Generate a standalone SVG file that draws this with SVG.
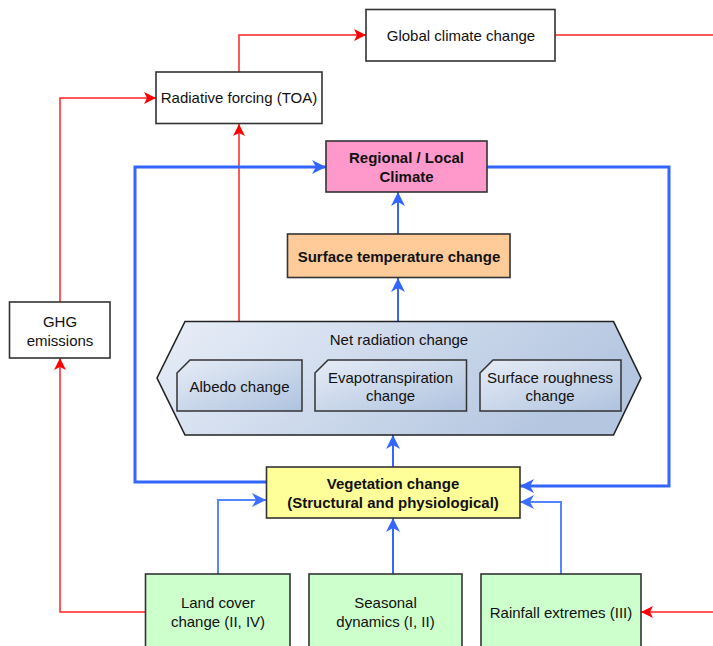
<svg xmlns="http://www.w3.org/2000/svg" width="713" height="646" viewBox="0 0 713 646">
<defs>
<style>
text{font-family:"Liberation Sans",Arial,sans-serif;font-size:15px;fill:#111;text-anchor:middle}
.b{font-weight:bold}
.box{stroke:#333;stroke-width:1.6}
.red{fill:none;stroke:#F22;stroke-width:1.5}
.blue{fill:none;stroke:#3366FF;stroke-width:2}
.blue2{fill:none;stroke:#5585FF;stroke-width:2}
.loop{fill:none;stroke:#3366FF;stroke-width:3}
</style>
<linearGradient id="hexg" x1="0" y1="0" x2="1" y2="0.3">
<stop offset="0" stop-color="#E8EEF8"/>
<stop offset="1" stop-color="#B4C6E0"/>
</linearGradient>
<linearGradient id="ing" x1="0" y1="0" x2="1" y2="1">
<stop offset="0" stop-color="#E6ECF6"/>
<stop offset="1" stop-color="#AFC3DF"/>
</linearGradient>
<marker id="ar" markerUnits="userSpaceOnUse" markerWidth="14" markerHeight="14" refX="12" refY="6" orient="auto">
<path d="M0,0 L12,6 L0,12 L3,6 z" fill="#F00"/>
</marker>
<marker id="ab" markerUnits="userSpaceOnUse" markerWidth="16" markerHeight="16" refX="14" refY="7" orient="auto">
<path d="M0,0 L14,7 L0,14 L4,7 z" fill="#3366FF"/>
</marker>
<marker id="ab2" markerUnits="userSpaceOnUse" markerWidth="16" markerHeight="16" refX="14" refY="7" orient="auto">
<path d="M0,0 L14,7 L0,14 L4,7 z" fill="#3D6FFF"/>
</marker>
</defs>
<rect width="713" height="646" fill="#fff"/>

<g id="connectors">
<path class="red" d="M555,35 H713"/>
<path class="red" d="M239,72 V35 H366" marker-end="url(#ar)"/>
<path class="red" d="M60,302 V98 H156" marker-end="url(#ar)"/>
<path class="red" d="M239,360 V124" marker-end="url(#ar)"/>
<path class="red" d="M145,612 H60 V358" marker-end="url(#ar)"/>
<path class="red" d="M713,612 H641" marker-end="url(#ar)"/>
<path class="loop" d="M267,482 H135 V167 H326" marker-end="url(#ab)"/>
<path class="loop" d="M487,167 H669 V486 H520" marker-end="url(#ab)"/>
<path class="blue" d="M398,234 V192" marker-end="url(#ab)"/>
<path class="blue" d="M398,322 V278" marker-end="url(#ab)"/>
<path class="blue" d="M393,467 V435" marker-end="url(#ab)"/>
<path class="blue" d="M393,575 V518" marker-end="url(#ab)"/>
<path class="blue2" d="M218,575 V500 H266" marker-end="url(#ab2)"/>
<path class="blue2" d="M561,575 V502 H520" marker-end="url(#ab2)"/>
</g>

<g id="global">
<rect class="box" x="366" y="9.5" width="189" height="51.5" fill="#fff"/>
<text x="461" y="41">Global climate change</text>
</g>
<g id="radiative">
<rect class="box" x="156" y="72" width="166" height="51.5" fill="#fff"/>
<text x="239" y="103">Radiative forcing (TOA)</text>
</g>
<g id="ghg">
<rect class="box" x="9.5" y="302" width="100.5" height="56" fill="#fff"/>
<text x="60" y="327">GHG</text>
<text x="60" y="346">emissions</text>
</g>
<g id="regional">
<rect class="box" x="326" y="141" width="161" height="51" fill="#FF99CC"/>
<text class="b" x="406.5" y="163">Regional / Local</text>
<text class="b" x="406.5" y="182">Climate</text>
</g>
<g id="surftemp">
<rect class="box" x="287.5" y="234" width="222.5" height="43.5" fill="#FFCC99"/>
<text class="b" x="399" y="262">Surface temperature change</text>
</g>
<g id="netrad">
<path d="M157,378 L185,321.5 H613.5 L641,378 L613.5,435 H185 Z" fill="url(#hexg)" stroke="#222" stroke-width="1.6"/>
<text x="399" y="345">Net radiation change</text>
</g>
<g id="albedo">
<path d="M177,373 L190,360 H302 V411 H177 Z" fill="url(#ing)" stroke="#333" stroke-width="1.5"/>
<text x="239.5" y="392">Albedo change</text>
</g>
<g id="evapo">
<path d="M315,373 L328,360 H466.5 V411 H315 Z" fill="url(#ing)" stroke="#333" stroke-width="1.5"/>
<text x="390.5" y="383">Evapotranspiration</text>
<text x="390.5" y="401">change</text>
</g>
<g id="roughness">
<path d="M480,373 L493,360 H621 V411 H480 Z" fill="url(#ing)" stroke="#333" stroke-width="1.5"/>
<text x="550" y="383">Surface roughness</text>
<text x="550" y="401">change</text>
</g>
<g id="vegetation">
<rect class="box" x="266.5" y="467" width="253.5" height="51" fill="#FFFF99"/>
<text class="b" x="393" y="489">Vegetation change</text>
<text class="b" x="393" y="508">(Structural and physiological)</text>
</g>
<g id="landcover">
<rect class="box" x="145.5" y="574" width="144.5" height="90" fill="#CCFFCC"/>
<text x="218" y="608">Land cover</text>
<text x="218" y="627">change (II, IV)</text>
</g>
<g id="seasonal">
<rect class="box" x="309" y="574" width="153" height="90" fill="#CCFFCC"/>
<text x="385.5" y="608">Seasonal</text>
<text x="385.5" y="627">dynamics (I, II)</text>
</g>
<g id="rainfall">
<rect class="box" x="481" y="574" width="160" height="90" fill="#CCFFCC"/>
<text x="561" y="618">Rainfall extremes (III)</text>
</g>
</svg>
